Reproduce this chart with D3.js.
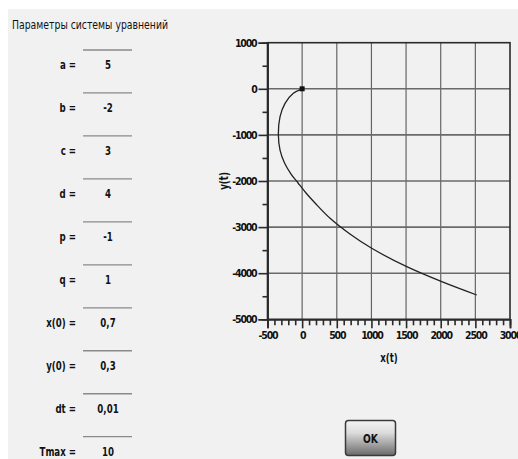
<!DOCTYPE html>
<html>
<head>
<meta charset="utf-8">
<script src="https://cdn.jsdelivr.net/npm/d3@7"></script>
<style>
  body { margin: 0; background: #ffffff; }
  svg { display: block; }
</style>
</head>
<body>
<div id="chart"></div>
<script>
// параметры системы
var paramLabels = ["a =", "b =", "c =", "d =", "p =", "q =", "x(0) =", "y(0) =", "dt =", "Tmax ="];
var paramValues = ["5", "-2", "3", "4", "-1", "1", "0,7", "0,3", "0,01", "10"];

// траектория (x(t), y(t))
var trajX = [0, -127, -247, -319, -343, -319, -254, -160, -59, 56, 186, 403, 690, 1004, 1510, 2015, 2520];
var trajY = [0, -98, -315, -605, -1002, -1328, -1610, -1849, -2043, -2260, -2477, -2809, -3150, -3460, -3859, -4184, -4473];

// оси
var xTicks = [-500, 0, 500, 1000, 1500, 2000, 2500, 3000];
var yTicks = [1000, 0, -1000, -2000, -3000, -4000, -5000];

var W = 518, H = 459;
var font = "'DejaVu Sans Condensed', 'DejaVu Sans', sans-serif";

var svg = d3.select("#chart")
    .append("svg")
    .attr("width", W)
    .attr("height", H);

// фон окна
svg.append("rect")
    .attr("x", 8).attr("y", 9)
    .attr("width", W - 8).attr("height", H - 9)
    .attr("fill", "#f1f1f1");

// заголовок
svg.append("text")
    .attr("x", 12).attr("y", 29)
    .attr("font-family", font)
    .attr("font-size", 12)
    .attr("fill", "#111")
    .attr("textLength", 156)
    .attr("lengthAdjust", "spacingAndGlyphs")
    .text("Параметры системы уравнений");

// поля ввода
var rowY = d3.scaleLinear().domain([0, 9]).range([50, 436.7]);

var rows = svg.append("g").selectAll("g")
    .data(paramLabels)
    .enter()
    .append("g")
    .attr("transform", function (d, i) { return "translate(0," + rowY(i) + ")"; });

rows.append("line")
    .attr("x1", 83).attr("x2", 132)
    .attr("y1", 0).attr("y2", 0)
    .attr("stroke", "#8a8a8a")
    .attr("stroke-width", 1.3);

rows.append("text")
    .attr("transform", "translate(76,19) scale(0.8,1)")
    .attr("text-anchor", "end")
    .attr("font-family", font)
    .attr("font-size", 12)
    .attr("font-weight", "bold")
    .attr("fill", "#111")
    .text(function (d) { return d; });

rows.append("text")
    .attr("transform", "translate(108,19) scale(0.8,1)")
    .attr("text-anchor", "middle")
    .attr("font-family", font)
    .attr("font-size", 12)
    .attr("font-weight", "bold")
    .attr("fill", "#111")
    .text(function (d, i) { return paramValues[i]; });

// график
var pL = 267.5, pR = 510, pT = 42.7, pB = 319.3;

var x = d3.scaleLinear().domain([-500, 3000]).range([pL, pR]);
var y = d3.scaleLinear().domain([-5000, 1000]).range([pB, pT]);

var fmt = function (d) { return String(d); };

var g = svg.append("g");

// сетка
g.append("g")
    .selectAll("line")
    .data(xTicks.filter(function (v) { return v > -500 && v < 3000; }))
    .enter()
    .append("line")
    .attr("x1", function (d) { return x(d); })
    .attr("x2", function (d) { return x(d); })
    .attr("y1", pT).attr("y2", pB)
    .attr("stroke", "#666")
    .attr("stroke-width", 1.2);

g.append("g")
    .selectAll("line")
    .data(yTicks.filter(function (v) { return v < 1000 && v > -5000; }))
    .enter()
    .append("line")
    .attr("x1", pL).attr("x2", pR)
    .attr("y1", function (d) { return y(d); })
    .attr("y2", function (d) { return y(d); })
    .attr("stroke", "#6a6a6a")
    .attr("stroke-width", 1.6);

// рамка
g.append("rect")
    .attr("x", pL).attr("y", pT)
    .attr("width", pR - pL).attr("height", pB - pT)
    .attr("fill", "none")
    .attr("stroke", "#2a2a2a")
    .attr("stroke-width", 1.6);

// ось Y
var yAxis = g.append("g")
    .attr("transform", "translate(" + pL + ",0)")
    .call(d3.axisLeft(y).tickValues(yTicks).tickSize(9).tickPadding(2).tickFormat(fmt));

var yMinor = g.append("g")
    .attr("transform", "translate(" + pL + ",0)")
    .call(d3.axisLeft(y).tickValues(d3.range(-4500, 1000, 1000)).tickSize(5).tickFormat(""));

// ось X
var xAxis = g.append("g")
    .attr("transform", "translate(0," + pB + ")")
    .call(d3.axisBottom(x).tickValues(xTicks).tickSize(9).tickPadding(3).tickFormat(fmt));

var xMinor = g.append("g")
    .attr("transform", "translate(0," + pB + ")")
    .call(d3.axisBottom(x).tickValues(d3.range(-400, 3000, 100).filter(function (v) { return v % 500 != 0; })).tickSize(6).tickFormat(""));

[yAxis, yMinor, xAxis, xMinor].forEach(function (a) {
    a.select(".domain").attr("stroke", "#2a2a2a").attr("stroke-width", 1.6);
    a.selectAll(".tick line").attr("stroke", "#2a2a2a").attr("stroke-width", 1.6);
    a.selectAll("text")
        .attr("font-family", font)
        .attr("font-size", 10.5)
        .attr("font-weight", "bold")
        .attr("letter-spacing", -1.2)
        .attr("fill", "#111");
});

// подписи осей
svg.append("text")
    .attr("transform", "translate(389,362) scale(0.8,1)")
    .attr("text-anchor", "middle")
    .attr("font-family", font)
    .attr("font-size", 12)
    .attr("font-weight", "bold")
    .attr("fill", "#111")
    .text("x(t)");

svg.append("text")
    .attr("transform", "translate(228,181) rotate(-90) scale(0.8,1)")
    .attr("text-anchor", "middle")
    .attr("font-family", font)
    .attr("font-size", 12)
    .attr("font-weight", "bold")
    .attr("fill", "#111")
    .text("y(t)");

// кривая
var pts = trajX.map(function (v, i) { return [v, trajY[i]]; });

g.append("path")
    .datum(pts)
    .attr("fill", "none")
    .attr("stroke", "#222")
    .attr("stroke-width", 1.3)
    .attr("d", d3.line()
        .x(function (d) { return x(d[0]); })
        .y(function (d) { return y(d[1]); })
        .curve(d3.curveCatmullRom));

g.append("rect")
    .attr("x", x(trajX[0]) - 2.5).attr("y", y(trajY[0]) - 2.5)
    .attr("width", 5).attr("height", 5)
    .attr("fill", "#111");

// кнопка OK
var grad = svg.append("defs").append("linearGradient")
    .attr("id", "btn")
    .attr("x1", 0).attr("y1", 0).attr("x2", 0).attr("y2", 1);
grad.append("stop").attr("offset", "0%").attr("stop-color", "#f4f4f4");
grad.append("stop").attr("offset", "35%").attr("stop-color", "#dcdcdc");
grad.append("stop").attr("offset", "100%").attr("stop-color", "#6a6a6a");

svg.append("rect")
    .attr("x", 345.5).attr("y", 420.5)
    .attr("width", 50).attr("height", 35)
    .attr("rx", 3)
    .attr("fill", "url(#btn)")
    .attr("stroke", "#3a3a3a")
    .attr("stroke-width", 1.5);

svg.append("text")
    .attr("transform", "translate(370.5,443) scale(0.85,1)")
    .attr("text-anchor", "middle")
    .attr("font-family", font)
    .attr("font-size", 12)
    .attr("font-weight", "bold")
    .attr("fill", "#111")
    .text("OK");
</script>
</body>
</html>
